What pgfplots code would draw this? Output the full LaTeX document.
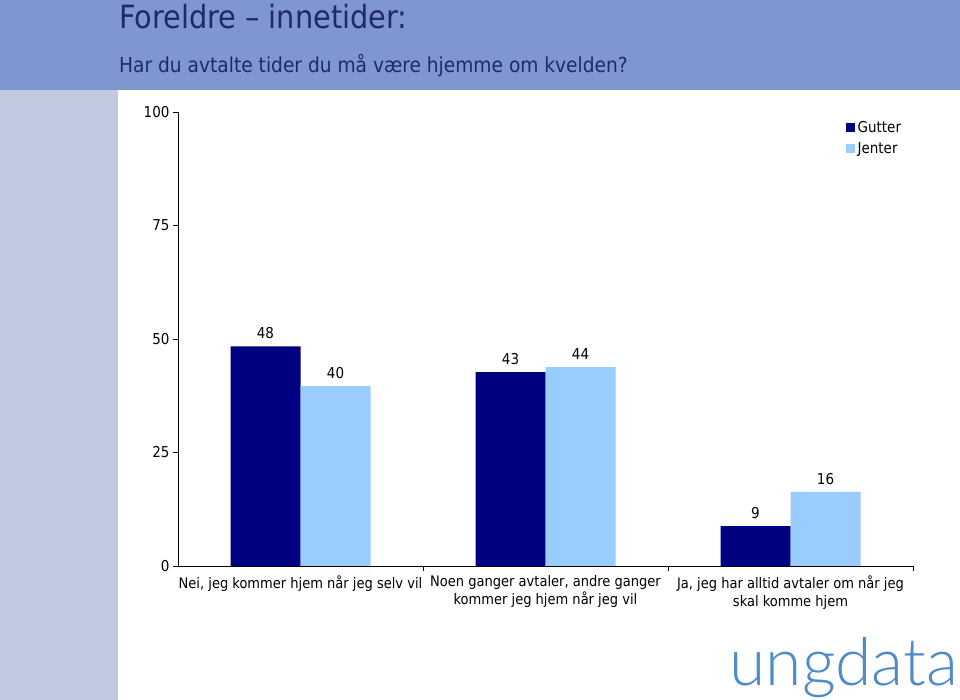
\documentclass[border=0pt]{standalone}
\usepackage{fontspec}
\setmainfont{DejaVu Sans Condensed}
\newfontfamily\logofont{Lato Light}
\usepackage{pgfplots}
\pgfplotsset{compat=1.18}
\definecolor{gutter}{HTML}{000080}
\definecolor{jenter}{HTML}{99CCFF}
\definecolor{headerblue}{HTML}{7F96D0}
\definecolor{stripblue}{HTML}{C0CADF}
\definecolor{titleblue}{HTML}{1F2A6E}
\definecolor{logoblue}{HTML}{4F8BCB}
\begin{document}
\begin{tikzpicture}
\begin{scope}[x=1pt,y=1pt]
\useasboundingbox (0,0) rectangle (960,700);
\fill[white] (0,0) rectangle (960,700);
\fill[headerblue] (0,610) rectangle (960,700);
\fill[stripblue] (0,0) rectangle (118,610);
\node[anchor=base west, text=titleblue, inner sep=0pt] at (119,671) {\fontsize{32}{36}\selectfont Foreldre -- innetider:};
\node[anchor=base west, text=titleblue, inner sep=0pt] at (119,627) {\fontsize{20.7}{24}\selectfont Har du avtalte tider du må være hjemme om kvelden?};
\node[anchor=base east, text=logoblue, inner sep=0pt] at (958,14) {\logofont\fontsize{66}{70}\selectfont ungdata};
\end{scope}
\begin{axis}[
  at={(178pt,134pt)}, anchor=south west,
  scale only axis, width=735pt, height=454pt,
  ybar=0pt, bar width=70pt,
  xmin=-0.5, xmax=2.5, ymin=0, ymax=100,
  axis x line*=bottom, axis y line*=left,
  axis line style={black, line width=0.8pt},
  tick align=outside, major tick length=5pt,
  tick style={black, line width=0.8pt},
  ytick={0,25,50,75,100},
  xtick={0.5,1.5,2.5}, xticklabels={},
  extra x ticks={0,1,2},
  extra x tick labels={{Nei, jeg kommer hjem når jeg selv vil},{Noen ganger avtaler, andre ganger\\kommer jeg hjem når jeg vil},{Ja, jeg har alltid avtaler om når jeg\\skal komme hjem}},
  extra x tick style={major tick length=0pt, tick label style={align=center, yshift=-6pt, font=\fontsize{14.5}{18}\selectfont}},
  /pgf/number format/assume math mode=true,
  tick label style={font=\fontsize{15}{18}\selectfont},
  nodes near coords,
  nodes near coords style={font=\fontsize{15}{18}\selectfont, black, /pgf/number format/fixed, /pgf/number format/precision=0, yshift=4pt},
  legend style={at={(0.908,0.985)}, anchor=north west, draw=none, fill=none, font=\fontsize{15}{18}\selectfont, row sep=5pt, inner sep=0pt, nodes={inner xsep=3pt}},
  legend cell align=left,
  legend image code/.code={\fill[#1,draw=none] (0pt,-4.5pt) rectangle (9pt,4.5pt);},
]
\addplot[fill=gutter, draw=none] coordinates {(0,48.4) (1,42.7) (2,8.8)};
\addplot[fill=jenter, draw=none] coordinates {(0,39.6) (1,43.8) (2,16.3)};
\legend{Gutter, Jenter}
\end{axis}
\end{tikzpicture}
\end{document}
